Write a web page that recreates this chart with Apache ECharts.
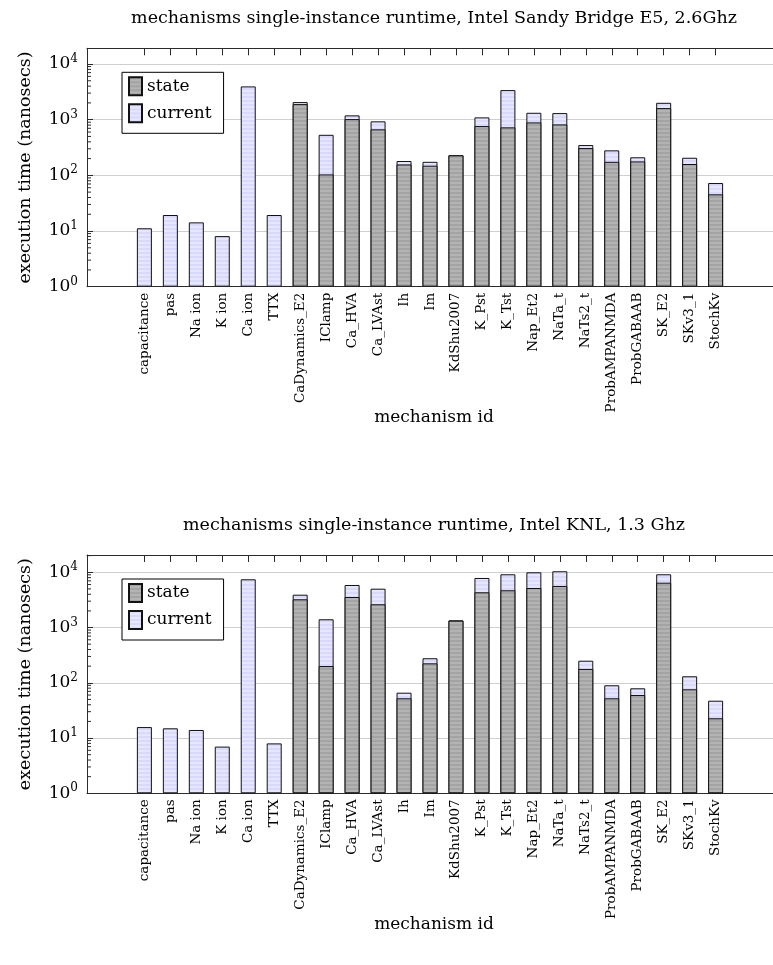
<!DOCTYPE html>
<html>
<head>
<meta charset="utf-8">
<script src="https://cdn.jsdelivr.net/npm/echarts@6/dist/echarts.min.js"></script>
<style>
  html, body { margin: 0; padding: 0; background: #fff; }
  #chart { width: 773px; height: 965px; }
</style>
</head>
<body>
<div id="chart"></div>
<script>
// Mechanism ids along the x axis
const mechanisms = ['capacitance', 'pas', 'Na ion', 'K ion', 'Ca ion', 'TTX', 'CaDynamics_E2', 'IClamp',
  'Ca_HVA', 'Ca_LVAst', 'Ih', 'Im', 'KdShu2007', 'K_Pst', 'K_Tst', 'Nap_Et2', 'NaTa_t', 'NaTs2_t',
  'ProbAMPANMDA', 'ProbGABAAB', 'SK_E2', 'SKv3_1', 'StochKv'];

// Intel Sandy Bridge E5, 2.6Ghz — execution time in nanosecs
const sandyState = [null, null, null, null, null, null, 1905, 104, 1025, 670, 157, 149, 229, 768, 728,
  894, 823, 309, 175, 178, 1615, 160, 45.6];
const sandyCurrent = [11.2, 19.4, 14.3, 8.1, 3960, 19.4, 165, 431, 170, 263, 24, 26, 2, 332, 2672,
  436, 490, 41, 106, 33, 395, 47, 27.2];

// Intel KNL, 1.3 Ghz — execution time in nanosecs
const knlState = [null, null, null, null, null, null, 3245, 201, 3570, 2636, 52.4, 225, 1330, 4345, 4725,
  5200, 5650, 178, 52.4, 60.1, 6485, 76.2, 22.8];
const knlCurrent = [15.8, 15.0, 14.0, 7.0, 7470, 8.0, 685, 1209, 2320, 2414, 13.8, 53, 23, 3545, 4475,
  4800, 4780, 73, 37.7, 19.4, 2715, 54.8, 24.6];

const panelTitles = [
  'mechanisms single-instance runtime, Intel Sandy Bridge E5, 2.6Ghz',
  'mechanisms single-instance runtime, Intel KNL, 1.3 Ghz'
];
const yAxisTitle = 'execution time (nanosecs)';
const xAxisTitle = 'mechanism id';
const seriesNames = ['state', 'current'];

const FONT = 'DejaVu Serif';
const INK = '#2b2b2b';

// horizontal striped fills
function stripes(dark, light) {
  const c = document.createElement('canvas');
  c.width = 4; c.height = 4;
  const g = c.getContext('2d');
  g.fillStyle = light; g.fillRect(0, 0, 4, 4);
  g.fillStyle = dark; g.fillRect(0, 0, 4, 2);
  return { image: c, repeat: 'repeat' };
}
const stateFill = stripes('#a4a4a4', '#b3b3b3');
const currentFill = stripes('#d9d9fc', '#e6e6fe');

const panels = [
  { state: sandyState, current: sandyCurrent, top: 48.3, height: 238.4, ymax: 19150, title: panelTitles[0], titleY: 18 },
  { state: knlState, current: knlCurrent, top: 555, height: 238.3, ymax: 20550, title: panelTitles[1], titleY: 525 }
];

const idx = mechanisms.map((_, i) => i);
const XMIN = -2.21, XMAX = mechanisms.length - 1 + 2.21;

function powLabel(v) {
  const e = Math.log10(v);
  const r = Math.round(e);
  if (Math.abs(e - r) > 1e-6) return '';
  return '{b|10}{s|' + r + '}';
}

const option = {
  animation: false,
  backgroundColor: '#fff',
  grid: [], xAxis: [], yAxis: [], series: [], legend: [], graphic: []
};

panels.forEach((p, k) => {
  option.grid.push({ left: 87, right: -8, top: p.top, height: p.height });

  // bottom axis: mechanism names
  option.xAxis.push({
    type: 'value', gridIndex: k, min: XMIN, max: XMAX, position: 'bottom',
    axisLine: { show: true, onZero: false, lineStyle: { color: INK, width: 1 } },
    axisTick: { show: false },
    splitLine: { show: false },
    axisLabel: {
      customValues: idx, rotate: 90, margin: 6,
      formatter: v => mechanisms[Math.round(v)] || '',
      fontFamily: FONT, fontSize: 13.5, color: '#000'
    }
  });
  // top axis: category ticks
  option.xAxis.push({
    type: 'value', gridIndex: k, min: XMIN, max: XMAX, position: 'top',
    axisLine: { show: true, onZero: false, lineStyle: { color: INK, width: 1 } },
    axisTick: { show: true, inside: true, length: 7, customValues: idx, lineStyle: { color: INK } },
    axisLabel: { show: false },
    splitLine: { show: false }
  });

  option.yAxis.push({
    type: 'log', logBase: 10, gridIndex: k, min: 1, max: p.ymax, position: 'left',
    axisLine: { show: true, onZero: false, lineStyle: { color: INK, width: 1 } },
    axisTick: { show: true, inside: true, length: 6, lineStyle: { color: INK } },
    splitLine: { show: true, lineStyle: { color: '#cfcfcf', width: 1 } },
    axisLabel: {
      formatter: powLabel, margin: 9,
      rich: {
        b: { fontFamily: FONT, fontSize: 17, color: '#000', lineHeight: 22 },
        s: { fontFamily: FONT, fontSize: 12, color: '#000', verticalAlign: 'top', lineHeight: 12 }
      }
    }
  });

  const xa = 2 * k, ya = k;
  // full bar (state + current) in the current colour, state drawn over it
  option.series.push({
    name: 'current', type: 'bar', xAxisIndex: xa, yAxisIndex: ya,
    barWidth: 15, barGap: '-100%',
    itemStyle: { color: currentFill, borderColor: '#111', borderWidth: 1 },
    data: idx.map(i => [i, (p.state[i] || 0) + p.current[i]])
  });
  option.series.push({
    name: 'state', type: 'bar', xAxisIndex: xa, yAxisIndex: ya,
    barWidth: 15, barGap: '-100%',
    itemStyle: { color: stateFill, borderColor: '#111', borderWidth: 1 },
    data: idx.map(i => [i, p.state[i] == null ? null : p.state[i]])
  });

  // log minor ticks on the left axis
  const minors = [];
  for (let e = 0; e <= 4; e++) {
    for (let m = 2; m <= 9; m++) {
      const v = m * Math.pow(10, e);
      if (v < p.ymax) minors.push([0, v]);
    }
  }
  option.series.push({
    type: 'custom', xAxisIndex: xa, yAxisIndex: ya, silent: true,
    data: minors,
    renderItem: (params, api) => {
      const y = api.coord([0, api.value(1)])[1];
      const x0 = params.coordSys.x;
      return { type: 'line', shape: { x1: x0, y1: y, x2: x0 + 4, y2: y }, style: { stroke: INK, lineWidth: 1 } };
    }
  });

  option.legend.push({
    left: 122, top: p.top + 24, orient: 'vertical',
    data: seriesNames, icon: 'rect', itemWidth: 13, itemHeight: 18, itemGap: 7,
    padding: [4, 12, 10, 6], borderColor: '#000', borderWidth: 1, backgroundColor: '#fff',
    selectedMode: false,
    textStyle: { fontFamily: FONT, fontSize: 17, color: '#000' }
  });

  // panel title
  option.graphic.push({
    type: 'text', x: 434, y: p.titleY,
    style: { text: p.title, fontFamily: FONT, fontSize: 17.5, fill: '#000', align: 'center', verticalAlign: 'middle' }
  });
  // x axis title
  option.graphic.push({
    type: 'text', x: 434, y: p.top + p.height + 131,
    style: { text: xAxisTitle, fontFamily: FONT, fontSize: 17, fill: '#000', align: 'center', verticalAlign: 'middle' }
  });
  // y axis title
  option.graphic.push({
    type: 'text', x: 25, y: p.top + p.height / 2, rotation: Math.PI / 2,
    style: { text: yAxisTitle, fontFamily: FONT, fontSize: 17.5, fill: '#000', align: 'center', verticalAlign: 'middle' }
  });
});

const chart = echarts.init(document.getElementById('chart'), null, { renderer: 'canvas' });
chart.setOption(option);
</script>
</body>
</html>
